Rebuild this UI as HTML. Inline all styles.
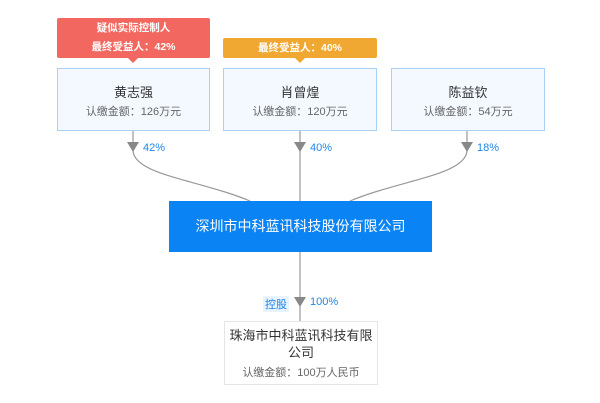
<!DOCTYPE html>
<html><head><meta charset="utf-8"><style>
body{margin:0;width:600px;height:403px;background:#fff;position:relative;overflow:hidden;font-family:"Liberation Sans","Noto Sans CJK SC",sans-serif}
.a{position:absolute;box-sizing:border-box;text-align:center}
.box{background:#f3f9ff;border:1px solid #a9d0f5}
.n{font-size:13px;color:#333}
.m{font-size:11px;color:#666}
.p{position:absolute;font-size:11px;color:#1d86e8}
</style></head><body>
<svg width="600" height="403" style="position:absolute;left:0;top:0">
<g stroke="#999" fill="none" stroke-width="1.2">
<path d="M133 131 V150 C133 175 200 180 250 201"/>
<path d="M300 131 V201"/>
<path d="M467 131 V150 C467 175 400 180 350 201"/>
<path d="M300 252 V321"/>
</g>
<g fill="#888">
<path d="M127 142 h12 l-6 10z"/><path d="M294 142 h12 l-6 10z"/><path d="M461 142 h12 l-6 10z"/>
<path d="M294 297 h12 l-6 10z"/>
</g>
<path d="M128 58 h10 l-5 5z" fill="#f2675f"/>
<path d="M295 58 h10 l-5 5z" fill="#f0a832"/>
</svg>
<div class="a" style="left:57px;top:18px;width:153px;height:40px;background:#f2675f;border-radius:2px;color:#fff;font-size:10.5px;font-weight:bold;line-height:19px;padding-top:1px">疑似实际控制人<br>最终受益人：42%</div>
<div class="a" style="left:223px;top:38px;width:154px;height:20px;background:#f0a832;border-radius:2px;color:#fff;font-size:10.5px;font-weight:bold;line-height:20px">最终受益人：40%</div>
<div class="a box" style="left:57px;top:68px;width:153px;height:63px;padding-top:13px"><div class="n">黄志强</div><div class="m" style="margin-top:2px">认缴金额：126万元</div></div>
<div class="a box" style="left:223px;top:68px;width:154px;height:63px;padding-top:13px"><div class="n">肖曾煌</div><div class="m" style="margin-top:2px">认缴金额：120万元</div></div>
<div class="a box" style="left:391px;top:68px;width:154px;height:63px;padding-top:13px"><div class="n">陈益钦</div><div class="m" style="margin-top:2px">认缴金额：54万元</div></div>
<div class="p" style="left:143px;top:142px">42%</div>
<div class="p" style="left:310px;top:142px">40%</div>
<div class="p" style="left:477px;top:142px">18%</div>
<div class="a" style="left:169px;top:201px;width:263px;height:51px;background:#0a84f5;color:#fff;font-size:14px;line-height:51px">深圳市中科蓝讯科技股份有限公司</div>
<div class="p" style="left:263px;top:296px;background:#e8f3fe;padding:0 2px">控股</div>
<div class="p" style="left:310px;top:296px">100%</div>
<div class="a" style="left:224px;top:321px;width:154px;height:64px;border:1px solid #e5e5e5;background:#fff;padding-top:5px"><div class="n" style="line-height:17px">珠海市中科蓝讯科技有限<br>公司</div><div class="m" style="margin-top:3px">认缴金额：100万人民币</div></div>
</body></html>
